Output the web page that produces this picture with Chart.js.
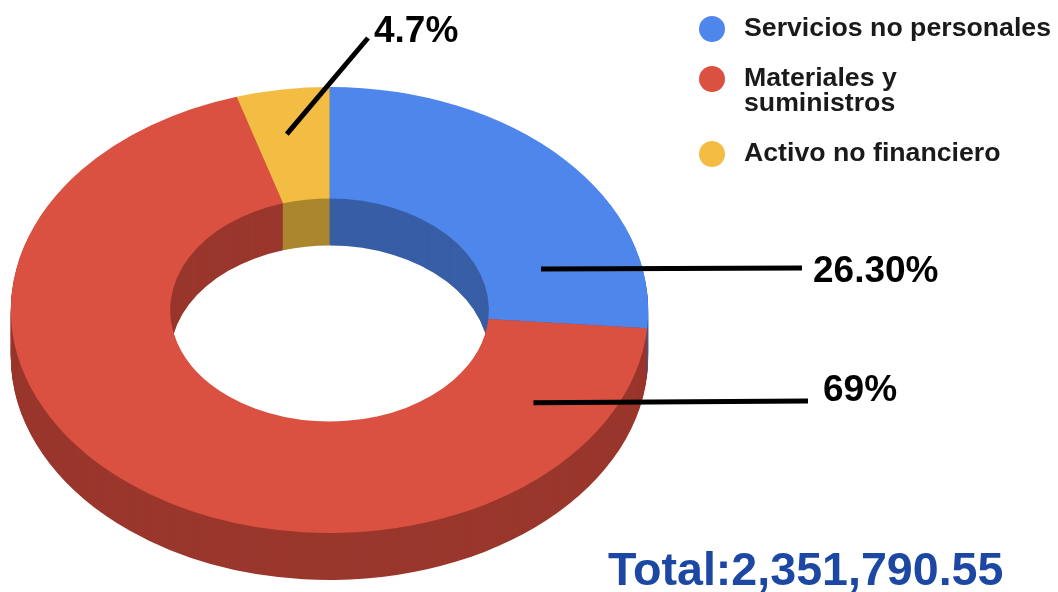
<!DOCTYPE html>
<html><head><meta charset="utf-8">
<script src="https://cdn.jsdelivr.net/npm/chart.js@4/dist/chart.umd.min.js"></script>
<style>html,body{margin:0;padding:0;background:#fff;overflow:hidden}canvas{display:block}</style>
</head><body>
<canvas id="c" width="1058" height="592"></canvas>
<script>
// ---- data ----
const categories = ['Servicios no personales', 'Materiales y suministros', 'Activo no financiero'];
const shares = [26.3, 69, 4.7];
const valueLabels = ['26.30%', '69%', '4.7%'];
const totalLabel = 'Total:2,351,790.55';

// ---- styles ----
const topColors = ['#4F86EC', '#DA5141', '#F2BD42'];
const sideColors = ['#385EA5', '#9A372D', '#AB862E'];
const TILT_X = 1.429;   // horizontal stretch of the tilted ring
const DEPTH = 47;       // thickness of the ring in pixels
const FONT = '"Liberation Sans", Arial, Helvetica, sans-serif';
// callouts: anchor as fraction of slice angle / fraction of radius, then line end and text position
const callouts = [
  {frac: 0.787, rad: 0.689, end: [802, 268], text: [813, 282]},
  {frac: 0.114, rad: 0.763, end: [808, 401], text: [823, 401]},
  {frac: 0.43,  rad: 0.80,  end: [368, 38],  text: [374, 42]}
];

function tilt(ctx, cx, cy) {
  ctx.translate(cx, cy);
  ctx.scale(TILT_X, 1);
  ctx.translate(-cx, -cy);
}

const ring3d = {
  id: 'ring3d',
  beforeDatasetsDraw(chart) {
    const ctx = chart.ctx;
    const meta = chart.getDatasetMeta(0);
    const cx = meta.data[0].x, cy = meta.data[0].y;
    for (let d = DEPTH; d >= 1; d--) {
      ctx.save();
      ctx.translate(0, d);
      tilt(ctx, cx, cy);
      meta.data.forEach((el, i) => {
        const p = Object.create(el);
        p.options = Object.assign({}, el.options, {backgroundColor: sideColors[i], borderWidth: 0});
        p.draw(ctx);
      });
      ctx.restore();
    }
    ctx.save();
    tilt(ctx, cx, cy);
  },
  afterDatasetsDraw(chart) {
    chart.ctx.restore();
  },
  afterDraw(chart) {
    const ctx = chart.ctx;
    const meta = chart.getDatasetMeta(0);
    // callouts
    meta.data.forEach((el, i) => {
      const c = callouts[i];
      const a = el.startAngle + c.frac * (el.endAngle - el.startAngle);
      const r = c.rad * el.outerRadius;
      const ax = el.x + TILT_X * r * Math.cos(a);
      const ay = el.y + r * Math.sin(a);
      ctx.save();
      ctx.strokeStyle = '#000';
      ctx.lineWidth = 5;
      ctx.beginPath();
      ctx.moveTo(ax, ay);
      ctx.lineTo(c.end[0], c.end[1]);
      ctx.stroke();
      ctx.fillStyle = '#000';
      ctx.font = 'bold 37px ' + FONT;
      ctx.textBaseline = 'alphabetic';
      ctx.textAlign = 'left';
      ctx.fillText(valueLabels[i], c.text[0], c.text[1]);
      ctx.restore();
    });
    // legend
    ctx.save();
    ctx.font = 'bold 26.7px ' + FONT;
    ctx.textBaseline = 'alphabetic';
    ctx.textAlign = 'left';
    const textX = 744, dotX = 712, maxW = 308, lineH = 25, gap = 25;
    let y = 36;
    chart.data.labels.forEach((lab, i) => {
      const words = lab.split(' ');
      const lines = [];
      let cur = '';
      words.forEach(w => {
        const t = cur ? cur + ' ' + w : w;
        if (ctx.measureText(t).width > maxW && cur) { lines.push(cur); cur = w; } else cur = t;
      });
      lines.push(cur);
      ctx.fillStyle = topColors[i];
      ctx.beginPath();
      ctx.arc(dotX, y - 7, 13, 0, Math.PI * 2);
      ctx.fill();
      ctx.fillStyle = '#1a1a1a';
      lines.forEach((ln, j) => ctx.fillText(ln, textX, y + j * lineH));
      y += lines.length * lineH + gap;
    });
    // total
    ctx.fillStyle = '#1C48A4';
    ctx.font = 'bold 46.6px ' + FONT;
    ctx.fillText(totalLabel, 608, 585);
    ctx.restore();
  }
};

new Chart(document.getElementById('c'), {
  type: 'doughnut',
  data: {
    labels: categories,
    datasets: [{
      data: shares,
      backgroundColor: topColors,
      borderWidth: 0,
      hoverBorderWidth: 0,
      hoverOffset: 0,
      offset: 0
    }]
  },
  options: {
    responsive: false,
    animation: false,
    cutout: '50%',
    layout: {padding: {left: 106.5, right: 505.5, top: 87, bottom: 59}},
    plugins: {legend: {display: false}, tooltip: {enabled: false}},
    events: []
  },
  plugins: [ring3d]
});
</script>
</body></html>
